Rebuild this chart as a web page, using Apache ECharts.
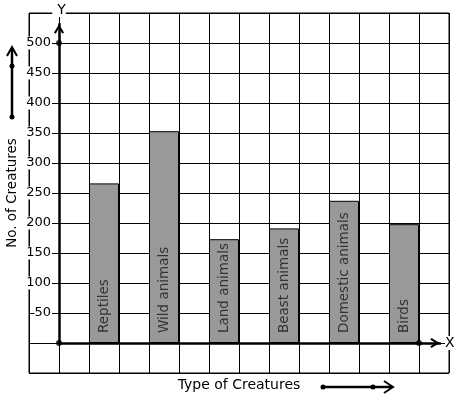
<!DOCTYPE html>
<html><head><meta charset="utf-8">
<script src="https://cdn.jsdelivr.net/npm/echarts@6/dist/echarts.min.js"></script>
<style>html,body{margin:0;padding:0;background:#fff}#c{width:457px;height:399px}</style>
</head><body><div id="c"></div>
<script>
const categories = ['Reptiles', 'Wild animals', 'Land animals', 'Beast animals', 'Domestic animals', 'Birds'];
const values = [266, 353, 173, 191, 237, 198];
const yTickLabels = [50, 100, 150, 200, 250, 300, 350, 400, 450, 500];
const axisMarks = [[0, 0], [0, 500], [12, 0]];

const FONT = 'DejaVu Sans';
const chev = 'path://M5,0 L10,8.2 L8.3,9.4 L5,3.8 L1.7,9.4 L0,8.2 Z';

const barData = categories.map((c, i) => ({ name: c, value: [2 * i + 1.5, values[i]] }));

const chart = echarts.init(document.getElementById('c'), null, { renderer: 'canvas' });
chart.setOption({
  animation: false,
  backgroundColor: '#fff',
  grid: [
    { left: 29, right: 8, top: 13, bottom: 26, show: true, borderColor: '#000', borderWidth: 1, backgroundColor: 'transparent', containLabel: false, outerBoundsMode: 'none' },
    { left: 59, right: 17, top: 24, bottom: 56, containLabel: false, outerBoundsMode: 'none' }
  ],
  xAxis: [
    {
      gridIndex: 0, type: 'value', min: -1, max: 13, interval: 1,
      axisLine: { show: false }, axisTick: { show: false }, axisLabel: { show: false },
      splitLine: { show: true, lineStyle: { color: '#000', width: 1 } },
      name: 'Type of Creatures', nameLocation: 'middle', nameGap: 5, nameMoveOverlap: false,
      nameTextStyle: { fontFamily: FONT, fontSize: 14, color: '#000', verticalAlign: 'top' }
    },
    {
      gridIndex: 1, type: 'value', min: 0, max: 1, z: 5,
      axisLine: { show: true, onZero: false, symbol: ['none', chev], symbolSize: [10, 10], symbolOffset: [0, -5], lineStyle: { color: '#000', width: 2.5 } },
      axisTick: { show: false }, axisLabel: { show: false }, splitLine: { show: false },
      name: 'X', nameLocation: 'end', nameGap: 5,
      nameTextStyle: { fontFamily: FONT, fontSize: 14, color: '#000', backgroundColor: '#fff' }
    }
  ],
  yAxis: [
    {
      gridIndex: 0, type: 'value', min: -50, max: 550, interval: 50,
      axisLine: { show: false }, axisTick: { show: false },
      axisLabel: {
        show: true, inside: true, align: 'right', margin: 23,
        formatter: v => yTickLabels.includes(v) ? String(v) : '',
        fontFamily: FONT, fontSize: 13, color: '#000', backgroundColor: '#fff', padding: [0, 1, 0, 0]
      },
      splitLine: { show: true, lineStyle: { color: '#000', width: 1 } },
      name: 'No. of Creatures', nameLocation: 'middle', nameGap: 10, nameMoveOverlap: false,
      nameTextStyle: { fontFamily: FONT, fontSize: 13.5, color: '#000' }
    },
    {
      gridIndex: 1, type: 'value', min: 0, max: 1, z: 5,
      axisLine: { show: true, onZero: false, symbol: ['none', chev], symbolSize: [10, 10], symbolOffset: [0, -5], lineStyle: { color: '#000', width: 2.5 } },
      axisTick: { show: false }, axisLabel: { show: false }, splitLine: { show: false },
      name: 'Y', nameLocation: 'end', nameGap: 7,
      nameTextStyle: { fontFamily: FONT, fontSize: 14, color: '#000', backgroundColor: '#fff', padding: [0, 0, 0, 5] }
    }
  ],
  series: [
    {
      type: 'bar', xAxisIndex: 0, yAxisIndex: 0, barWidth: 30, z: 2,
      data: barData,
      itemStyle: { color: '#999999', borderColor: '#000', borderWidth: 1 },
      label: {
        show: true, position: 'insideBottom', distance: 10, rotate: 90, align: 'left', verticalAlign: 'middle',
        formatter: p => p.name, fontFamily: FONT, fontSize: 13.5, color: '#333'
      }
    },
    {
      type: 'scatter', xAxisIndex: 0, yAxisIndex: 0, z: 10,
      data: axisMarks, symbol: 'circle', symbolSize: 6, itemStyle: { color: '#000' }
    }
  ],
  graphic: [
    { type: 'line', shape: { x1: 12, y1: 117, x2: 12, y2: 48 }, style: { stroke: '#000', lineWidth: 2.5 } },
    { type: 'polyline', shape: { points: [[7, 56], [12, 47], [17, 56]] }, style: { stroke: '#000', lineWidth: 2, fill: null } },
    { type: 'circle', shape: { cx: 12, cy: 66, r: 2.5 }, style: { fill: '#000' } },
    { type: 'circle', shape: { cx: 12, cy: 117, r: 2.5 }, style: { fill: '#000' } },
    { type: 'line', shape: { x1: 323, y1: 387, x2: 392, y2: 387 }, style: { stroke: '#000', lineWidth: 2.5 } },
    { type: 'polyline', shape: { points: [[384, 381], [393, 387], [384, 393]] }, style: { stroke: '#000', lineWidth: 2, fill: null } },
    { type: 'circle', shape: { cx: 323, cy: 387, r: 2.5 }, style: { fill: '#000' } },
    { type: 'circle', shape: { cx: 373, cy: 387, r: 2.5 }, style: { fill: '#000' } }
  ]
});
</script></body></html>
